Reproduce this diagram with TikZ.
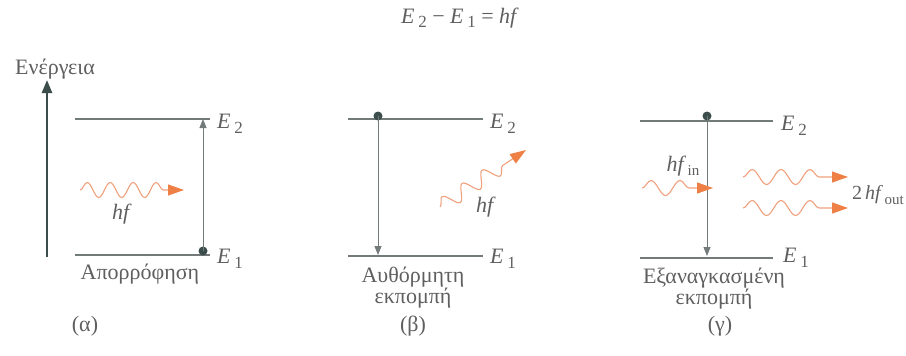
\documentclass[tikz,border=0pt]{standalone}
\usepackage{fontspec}
\setmainfont{Liberation Serif}
\usetikzlibrary{arrows.meta,decorations.pathmorphing}

\definecolor{levelgray}{RGB}{115,122,122}
\definecolor{textgray}{RGB}{95,95,95}
\definecolor{dotgray}{RGB}{60,78,75}
\definecolor{photonline}{RGB}{240,160,125}
\definecolor{photontip}{RGB}{238,128,70}

\newcommand\en[1]{\textit{E}\,\raisebox{-0.45ex}{\fontsize{17}{17}\selectfont #1}}
\newcommand\hfsub[1]{\textit{hf}\hspace{1.5pt}\raisebox{-0.45ex}{\fontsize{15}{15}\selectfont #1}}

\tikzset{
  level/.style={draw=levelgray,line width=1.4pt},
  jump/.style={draw=levelgray,line width=1pt,-{Triangle[length=9pt,width=7pt]}},
  axis/.style={draw=dotgray,line width=2.6pt,-{Triangle[length=13pt,width=10pt]}},
  photon/.style={draw=photonline,line width=1.1pt,decorate,
    decoration={snake,amplitude=7.5pt,segment length=#1,post length=17pt},
    -{Triangle[length=16pt,width=11pt,color=photontip]}},
  photon/.default=25pt,
  lbl/.style={text=textgray,font=\fontsize{22}{21}\selectfont,inner sep=0pt},
  electron/.style={fill=dotgray},
}

\begin{document}
\begin{tikzpicture}[x=1pt,y=-1pt]
  \useasboundingbox (0,0) rectangle (906,356);

  % equation
  \node[lbl,anchor=west] (eq) at (401,18) {\en{2} − \en{1} = \textit{hf}};

  % (a) absorption
  \coordinate (axb) at (47,257);
  \coordinate (axt) at (47,80);
  \draw[axis] (axb) -- (axt);
  \node[lbl,anchor=south west] (energy) at (15,79) {Ενέργεια};
  \node[lbl,anchor=west] (aE2) at (217,124) {\en{2}};
  \node[lbl,anchor=west] (aE1) at (217,259) {\en{1}};
  \coordinate (a2) at (75,119);
  \coordinate (a1) at (75,255);
  \draw[level] (a2) -- (210,119) coordinate (a2r);
  \draw[level] (a1) -- (210,255) coordinate (a1r);
  \coordinate (ael) at (203,251);
  \fill[electron] (ael) circle (4.5pt);
  \draw[jump] (ael) -- (203,119) coordinate (aup);
  \coordinate (aph) at (80,190);
  \draw[photon=23pt] (aph) -- (184,190) coordinate (aphe);
  \node[lbl] (ahf) at (122,214) {\textit{hf}};
  \node[lbl] (abs) at (140,274) {Απορρόφηση};
  \node[lbl] (atag) at (85,326) {(α)};

  % (b) spontaneous emission
  \node[lbl,anchor=west] (bE2) at (490,124) {\en{2}};
  \node[lbl,anchor=west] (bE1) at (490,259) {\en{1}};
  \coordinate (b2) at (348,119);
  \coordinate (b1) at (348,256);
  \draw[level] (b2) -- (483,119) coordinate (b2r);
  \draw[level] (b1) -- (483,256) coordinate (b1r);
  \coordinate (bel) at (378,116);
  \fill[electron] (bel) circle (4.5pt);
  \draw[jump] (bel) -- (378,255) coordinate (bdown);
  \coordinate (bph) at (440,207);
  \draw[photon=24pt] (bph) -- (526,150) coordinate (bphe);
  \node[lbl] (bhf) at (486,207) {\textit{hf}};
  \node[lbl,align=center] (spont) at (413,288) {Αυθόρμητη\\εκπομπή};
  \node[lbl] (btag) at (413,326) {(β)};

  % (c) stimulated emission
  \node[lbl,anchor=west] (cE2) at (781,126) {\en{2}};
  \node[lbl,anchor=west] (cE1) at (783,258) {\en{1}};
  \coordinate (c2) at (640,121);
  \coordinate (c1) at (640,258);
  \draw[level] (c2) -- (773,121) coordinate (c2r);
  \draw[level] (c1) -- (773,258) coordinate (c1r);
  \coordinate (cel) at (707,116);
  \fill[electron] (cel) circle (4.5pt);
  \draw[jump] (cel) -- (707,256) coordinate (cdown);
  \node[lbl] (cin) at (683,166) {\hfsub{in}};
  \coordinate (cph) at (642,188);
  \draw[photon=29pt] (cph) -- (713,188) coordinate (cphe);
  \coordinate (co1) at (743,177);
  \coordinate (co2) at (743,208);
  \draw[photon=29pt] (co1) -- (848,177) coordinate (co1e);
  \draw[photon=29pt] (co2) -- (848,208) coordinate (co2e);
  \node[lbl,anchor=west,font=\fontsize{20}{20}\selectfont] (cout) at (852,195) {2\hspace{3pt}\hfsub{out}};
  \node[lbl,align=center] (stim) at (714,289) {Εξαναγκασμένη\\εκπομπή};
  \node[lbl] (ctag) at (720,326) {(γ)};
\end{tikzpicture}
\end{document}
